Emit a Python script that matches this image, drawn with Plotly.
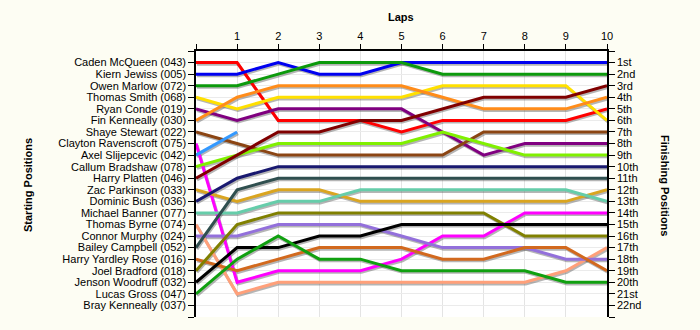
import plotly.graph_objects as go

laps = list(range(0, 11))
lap_tick_labels = ["", "1", "2", "3", "4", "5", "6", "7", "8", "9", "10"]

drivers = [
    "Caden McQueen (043)", "Kiern Jewiss (005)", "Owen Marlow (072)", "Thomas Smith (068)",
    "Ryan Conde (019)", "Fin Kenneally (030)", "Shaye Stewart (022)", "Clayton Ravenscroft (075)",
    "Axel Slijepcevic (042)", "Callum Bradshaw (078)", "Harry Platten (046)", "Zac Parkinson (033)",
    "Dominic Bush (036)", "Michael Banner (077)", "Thomas Byrne (074)", "Connor Murphy (024)",
    "Bailey Campbell (052)", "Harry Yardley Rose (016)", "Joel Bradford (018)", "Jenson Woodruff (032)",
    "Lucas Gross (047)", "Bray Kenneally (037)",
]

finish_labels = ["1st", "2nd", "3rd", "4th", "5th", "6th", "7th", "8th", "9th", "10th", "11th",
                 "12th", "13th", "14th", "15th", "16th", "17th", "18th", "19th", "20th", "21st", "22nd"]

# Position per lap (lap 0 = grid)
caden = [1, 1, 6, 6, 6, 7, 6, 6, 6, 6, 5]
kiern = [2, 2, 1, 2, 2, 1, 1, 1, 1, 1, 1]
owen = [3, 3, 2, 1, 1, 1, 2, 2, 2, 2, 2]
thomas_smith = [4, 5, 4, 4, 4, 4, 3, 3, 3, 3, 6]
ryan = [5, 6, 5, 5, 5, 5, 7, 9, 8, 8, 8]
fin = [6, 4, 3, 3, 3, 3, 4, 5, 5, 5, 4]
shaye = [7, 8, 9, 9, 9, 9, 9, 7, 7, 7, 7]
clayton = [8, 20, 19, 19, 19, 18, 16, 16, 14, 14, 14]
axel = [9, 7, None, None, None, None, None, None, None, None, None]
callum = [10, 9, 8, 8, 8, 8, 7, 8, 9, 9, 9]
harry_platten = [11, 9, 7, 7, 6, 6, 5, 4, 4, 4, 3]
zac = [12, 13, 12, 12, 13, 13, 13, 13, 13, 13, 12]
dominic = [13, 11, 10, 10, 10, 10, 10, 10, 10, 10, 10]
michael = [14, 14, 13, 13, 12, 12, 12, 12, 12, 12, 13]
thomas_byrne = [15, 21, 20, 20, 20, 20, 20, 20, 20, 19, 17]
connor = [16, 16, 15, 15, 15, 16, 17, 17, 17, 18, 18]
bailey = [17, 12, 11, 11, 11, 11, 11, 11, 11, 11, 11]
harry_yr = [18, 19, 18, 17, 17, 17, 18, 18, 17, 17, 19]
joel = [19, 15, 14, 14, 14, 14, 14, 14, 16, 16, 16]
jenson = [20, 17, 17, 16, 16, 15, 15, 15, 15, 15, 15]
lucas = [21, 18, 16, 18, 18, 19, 19, 19, 19, 20, 20]
bray = [None] * 11

series = [caden, kiern, owen, thomas_smith, ryan, fin, shaye, clayton, axel, callum,
          harry_platten, zac, dominic, michael, thomas_byrne, connor, bailey, harry_yr,
          joel, jenson, lucas, bray]

colors = ["#FF0000", "#0000F0", "#0C9A0C", "#FFE000", "#800080", "#FF8C1A", "#8B4513",
          "#FF00FF", "#3399FF", "#80F000", "#800000", "#DAA520", "#191970", "#66CDAA",
          "#FFA07A", "#9370DB", "#2F4F4F", "#D2691E", "#808000", "#000000", "#10A010",
          "#808080"]

FONT = "Liberation Sans, Arial, sans-serif"
fig = go.Figure()

# shadows
for name, ys in zip(drivers, series):
    fig.add_trace(go.Scatter(
        x=[l + 0.025 for l in laps], y=[(v + 0.14) if v is not None else None for v in ys],
        mode="lines", line=dict(color="rgba(90,90,90,0.45)", width=3),
        hoverinfo="skip", showlegend=False))

for name, ys, c in zip(drivers, series, colors):
    fig.add_trace(go.Scatter(x=laps, y=ys, mode="lines", name=name,
                             line=dict(color=c, width=3), showlegend=False))

# invisible trace to anchor right axis
fig.add_trace(go.Scatter(x=[None], y=[None], yaxis="y2", showlegend=False, hoverinfo="skip"))

pos_vals = list(range(0, 24))
left_text = [""] + drivers + [""]
right_text = [""] + finish_labels + [""]

fig.update_layout(
    width=700, height=330,
    margin=dict(l=196, r=93, t=51, b=13),
    paper_bgcolor="#FDFDF3", plot_bgcolor="#FFFFFF",
    font=dict(family=FONT, size=11, color="#000000"),
    xaxis=dict(range=[0, 10], side="top", tickvals=laps, ticktext=lap_tick_labels,
               ticks="outside", ticklen=5, tickcolor="#000", showline=True, linecolor="#000",
               linewidth=1.5, showgrid=True, gridcolor="#E4E4E4", zeroline=False,
               tickfont=dict(size=11), fixedrange=True),
    yaxis=dict(range=[23, 0], tickvals=pos_vals, ticktext=left_text, ticks="outside",
               ticklen=6, tickcolor="#000", showline=True, linecolor="#000", linewidth=1.5,
               showgrid=True, gridcolor="#EBEBEB", zeroline=False, tickfont=dict(size=11)),
    yaxis2=dict(range=[23, 0], tickvals=pos_vals, ticktext=right_text, overlaying="y",
                side="right", ticks="outside", ticklen=6, tickcolor="#000", showline=True,
                linecolor="#000", linewidth=1.5, showgrid=False, zeroline=False,
                tickfont=dict(size=11)),
    annotations=[
        dict(text="<b>Laps</b>", x=401, y=17, xref="paper", yref="paper", showarrow=False,
             font=dict(size=11)),
    ],
)
# place annotations in pixel-ish coordinates via paper fractions
pw = 700 - 196 - 93
ph = 330 - 51 - 13
def px_to_paper(x, y):
    return (x - 196) / pw, (330 - 13 - y) / ph

ax, ay = px_to_paper(401, 17)
bx, by = px_to_paper(28, 185)
cx, cy = px_to_paper(665, 185)
fig.layout.annotations = [
    dict(text="<b>Laps</b>", x=ax, y=ay, xref="paper", yref="paper", showarrow=False,
         font=dict(size=11), xanchor="center", yanchor="middle"),
    dict(text="<b>Starting Positions</b>", x=bx, y=by, xref="paper", yref="paper",
         showarrow=False, textangle=-90, font=dict(size=11), xanchor="center", yanchor="middle"),
    dict(text="<b>Finishing Positions</b>", x=cx, y=cy, xref="paper", yref="paper",
         showarrow=False, textangle=90, font=dict(size=11), xanchor="center", yanchor="middle"),
]

fig.write_html("out.html")
